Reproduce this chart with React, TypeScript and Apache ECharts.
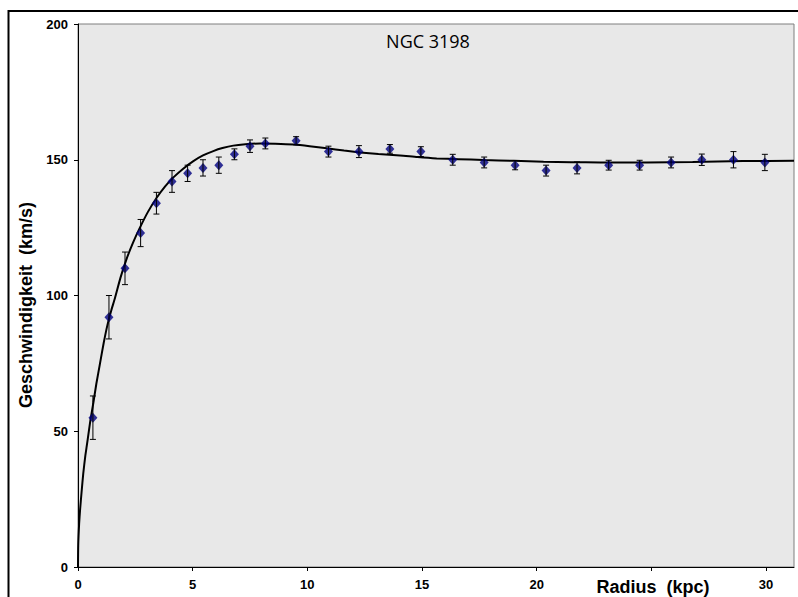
import React, { useEffect, useRef } from "react";
import * as echarts from "echarts";

const radius = [0.65, 1.35, 2.05, 2.73, 3.42, 4.1, 4.78, 5.45, 6.14, 6.82, 7.5, 8.17, 9.51, 10.92, 12.25, 13.6, 14.95, 16.34, 17.71, 19.06, 20.41, 21.76, 23.14, 24.49, 25.86, 27.2, 28.58, 29.95];
const velocity = [55, 92, 110, 123, 134, 142, 145, 147, 148, 152, 155, 156, 157, 153, 153, 154, 153, 150, 149, 148, 146, 147, 148, 148, 149, 150, 150, 149];
const velocityError = [8, 8, 6, 5, 4, 4, 3, 3, 3, 2, 2.3, 2, 1.5, 2, 2.2, 1.6, 1.8, 2, 2, 1.7, 2, 2.2, 1.8, 1.8, 2, 2.1, 3, 3];

const curveRadius = [0, 0.01, 0.05, 0.09, 0.16, 0.23, 0.32, 0.42, 0.54, 0.67, 0.8, 0.96, 1.12, 1.28, 1.45, 1.61, 1.85, 2.12, 2.4, 2.7, 3.05, 3.43, 3.8, 4.16, 4.6, 5.03, 5.45, 5.9, 6.3, 6.77, 7.3, 7.94, 8.6, 9.39, 10.1, 10.85, 11.6, 12.3, 13.1, 14.04, 14.8, 15.64, 16.6, 17.67, 19.0, 20.3, 21.5, 22.77, 24.8, 26.8, 29.0, 31.22];
const curveVelocity = [0, 8, 16, 21, 28, 34.5, 41, 46.8, 54, 60.5, 67.5, 75, 82.5, 89, 94.5, 99, 106.5, 113.5, 119.5, 125, 130.8, 136, 140.2, 143.5, 146.8, 149.5, 151.6, 153.2, 154.3, 155.2, 155.7, 156, 155.9, 155.6, 155, 154.2, 153.4, 152.7, 152.1, 151.6, 151, 150.5, 150.2, 149.9, 149.6, 149.3, 149.1, 149, 149, 149.2, 149.5, 149.6];

const xTicksHidden = [25];
const chartTitle = "NGC 3198";
const xTitle = "Radius  (kpc)";
const yTitle = "Geschwindigkeit  (km/s)";

const X_MAX = 31.22;

export default function App() {
  const ref = useRef<HTMLDivElement>(null);
  useEffect(() => {
    if (!ref.current) return;
    const chart = echarts.init(ref.current, undefined, { renderer: "svg" });
    const labelFont = {
      color: "#000",
      fontFamily: "'Liberation Sans', Arial, sans-serif",
      fontWeight: "bold" as const,
      fontSize: 13,
    };
    const errData = radius.map((r, i) => [r, velocity[i] - velocityError[i], velocity[i] + velocityError[i]]);
    chart.setOption({
      animation: false,
      backgroundColor: "#fff",
      grid: {
        left: 78,
        top: 24,
        width: 716,
        height: 543,
        show: true,
        backgroundColor: "#e8e8e8",
        borderColor: "#7f7f7f",
        borderWidth: 1,
        containLabel: false,
      },
      xAxis: {
        type: "value",
        min: 0,
        max: X_MAX,
        interval: 5,
        axisLine: { show: true, onZero: false, lineStyle: { color: "#000", width: 1 } },
        axisTick: { show: true, length: 4, lineStyle: { color: "#000" } },
        splitLine: { show: false },
        axisLabel: {
          ...labelFont,
          margin: 11,
          showMaxLabel: false,
          formatter: (v: number) => (xTicksHidden.includes(v) ? "" : String(v)),
        },
      },
      yAxis: {
        type: "value",
        min: 0,
        max: 200,
        interval: 50,
        axisLine: { show: true, onZero: false, lineStyle: { color: "#000", width: 1 } },
        axisTick: { show: true, length: 4, lineStyle: { color: "#000" } },
        splitLine: { show: false },
        axisLabel: { ...labelFont, margin: 10 },
      },
      series: [
        {
          type: "line",
          data: curveRadius.map((r, i) => [r, curveVelocity[i]]),
          showSymbol: false,
          smooth: 0.2,
          lineStyle: { color: "#000", width: 2 },
          z: 2,
          silent: true,
        },
        {
          type: "scatter",
          data: radius.map((r, i) => [r, velocity[i]]),
          symbol: "diamond",
          symbolSize: [9, 10],
          itemStyle: { color: "#000080" },
          z: 3,
        },
        {
          type: "custom",
          data: errData,
          encode: { x: 0, y: [1, 2] },
          z: 4,
          renderItem: (params: any, api: any) => {
            const x = api.value(0);
            const lo = api.coord([x, api.value(1)]);
            const hi = api.coord([x, api.value(2)]);
            const w = 3;
            const st = { stroke: "#000", lineWidth: 1 };
            return {
              type: "group",
              children: [
                { type: "line", shape: { x1: hi[0], y1: hi[1], x2: lo[0], y2: lo[1] }, style: st },
                { type: "line", shape: { x1: hi[0] - w, y1: hi[1], x2: hi[0] + w, y2: hi[1] }, style: st },
                { type: "line", shape: { x1: lo[0] - w, y1: lo[1], x2: lo[0] + w, y2: lo[1] }, style: st },
              ],
            };
          },
        },
      ],
      graphic: [
        {
          type: "rect",
          shape: { x: 8.5, y: 11, width: 830, height: 640 },
          style: { fill: "none", stroke: "#000", lineWidth: 2 },
          silent: true,
        },
        {
          type: "text",
          x: 428,
          y: 41,
          style: {
            text: chartTitle,
            fill: "#000",
            font: "18px 'Open Sans', 'Noto Sans', sans-serif",
            textAlign: "center",
            textVerticalAlign: "middle",
          },
        },
        {
          type: "text",
          x: 653,
          y: 587,
          style: {
            text: xTitle,
            fill: "#000",
            font: "bold 18px 'Liberation Sans', Arial, sans-serif",
            textAlign: "center",
            textVerticalAlign: "middle",
          },
        },
        {
          type: "text",
          x: 26,
          y: 305,
          rotation: Math.PI / 2,
          style: {
            text: yTitle,
            fill: "#000",
            font: "bold 18px 'Liberation Sans', Arial, sans-serif",
            textAlign: "center",
            textVerticalAlign: "middle",
          },
        },
      ],
    });
    return () => chart.dispose();
  }, []);
  return <div ref={ref} style={{ position: "fixed", left: 0, top: 0, width: 798, height: 597 }} />;
}
